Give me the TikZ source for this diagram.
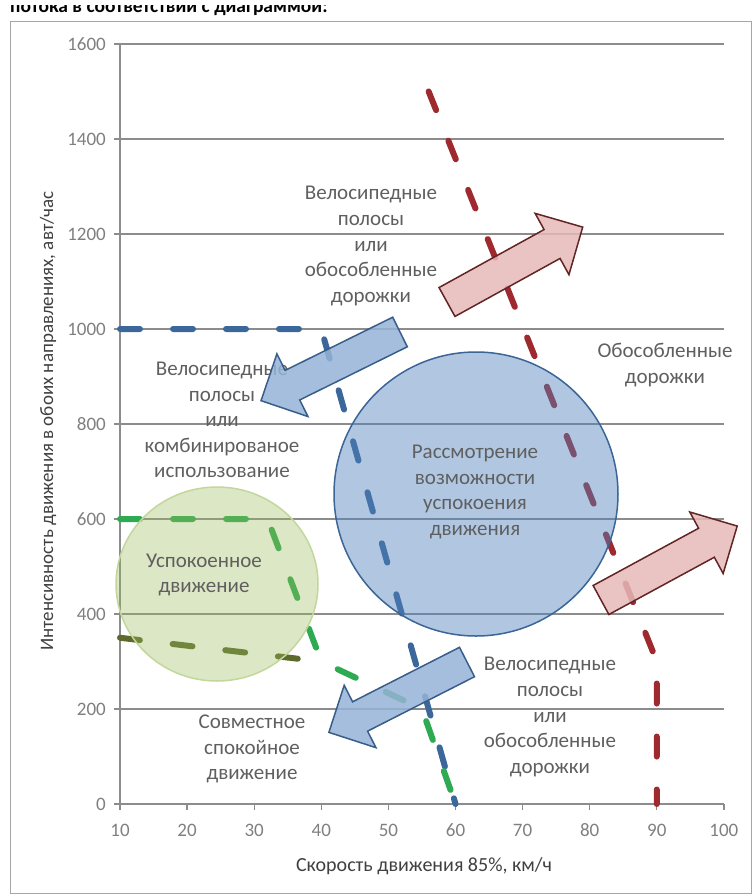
\documentclass[tikz,border=0pt]{standalone}
\usepackage{fontspec}
\setmainfont{Carlito}
\definecolor{gridc}{HTML}{8C8C8C}
\definecolor{framec}{HTML}{A6A6A6}
\definecolor{ticktxt}{HTML}{7F7F7F}
\definecolor{titletxt}{HTML}{404040}
\definecolor{plottxt}{HTML}{5F5F5F}
\definecolor{lblue}{HTML}{3C679A}
\definecolor{lgreen}{HTML}{2EAA52}
\definecolor{lolive}{HTML}{5C6A2E}
\definecolor{lred}{HTML}{9E2A30}
\definecolor{bigfill}{HTML}{4F81BD}
\definecolor{bigdraw}{HTML}{3A6596}
\definecolor{smfill}{HTML}{9BBB59}
\definecolor{smdraw}{HTML}{C3D69B}
\definecolor{bafill}{HTML}{95B3D7}
\definecolor{badraw}{HTML}{385D8A}
\definecolor{pafill}{HTML}{E6B9B8}
\definecolor{padraw}{HTML}{632523}
\tikzset{
  gridline/.style={gridc, line width=1.3pt},
  datadash/.style={line width=6pt, line cap=round, dash pattern=on 20pt off 33pt},
  ticklbl/.style={font=\fontsize{19}{22}\selectfont, text=ticktxt, inner sep=0pt},
  axtitle/.style={font=\fontsize{19}{22}\selectfont, text=titletxt, inner sep=0pt},
  plottext/.style={font=\fontsize{21}{25.6}\selectfont, text=plottxt, align=center, inner sep=0pt},
  blockarrow/.pic={\path[pic actions] (0,-16.5) -- (120,-16.5) -- (120,-35) -- (155,0) -- (120,35) -- (120,16.5) -- (0,16.5) -- cycle;},
  bluearrow/.style={fill=bafill, fill opacity=0.85, draw=badraw, line width=1.5pt},
  pinkarrow/.style={fill=pafill, fill opacity=0.85, draw=padraw, line width=1.5pt},
}
\begin{document}
\begin{tikzpicture}[x=1pt,y=-1pt]
\useasboundingbox (0,0) rectangle (755,895);
% cut-off heading line (only its lower part shows)
\begin{scope}
  \clip (0,5.5) rectangle (755,20);
  \node[anchor=base west, font=\fontsize{19.5}{22}\selectfont\bfseries, inner sep=0pt] (toptxt) at (10,12.5) {потока в соответствии с диаграммой:};
\end{scope}
% chart frame
\draw[framec, line width=1pt] (10.5,21) rectangle (751,893);
% data area
\begin{scope}[shift={(52.9,804)}, x=6.71pt, y=0.475pt]
  \foreach \v in {200,400,...,1600} \draw[gridline] (10,\v) -- (100,\v);
  \draw[gridline] (10,0) -- (10,1600);
  \draw[gridline] (10,0) -- (100,0);
  \foreach \v in {0,200,...,1600} \draw[gridline] (10,\v) -- +(-6pt,0pt);
  \foreach \v in {10,20,...,100} \draw[gridline] (\v,0) -- +(0pt,-6pt);
  % data lines
  \draw[datadash, lred] (56,1500) -- (90,300) -- (90,0);
  \draw[datadash, lblue] (10,1000) -- (40,1000) -- (60,0);
  \draw[datadash, lolive] (10,350) -- (40,300);
  \draw[datadash, lgreen] (10,600) -- (32,600) -- (40,300) -- (55,200) -- (60,0);
\end{scope}
% circles
\draw[fill=bigfill, fill opacity=0.45, draw=bigdraw, line width=1.5pt] (476,494) ellipse [x radius=142, y radius=142];
\draw[fill=smfill, fill opacity=0.35, draw=smdraw, line width=1.5pt] (217,584) ellipse [x radius=101, y radius=97];
% tick labels
\foreach \v/\py in {0/804,200/709,400/614,600/519,800/424,1000/329,1200/234,1400/139,1600/44}
  \node[ticklbl, anchor=east] (yl\v) at (106,\py) {\v};
\foreach \v in {10,20,...,100}
  \node[ticklbl, anchor=base] (xl\v) at ({120+6.71*(\v-10)},836) {\v};
% axis titles
\node[axtitle, rotate=90] (ytitle) at (48,421) {Интенсивность движения в обоих направлениях, авт/час};
\node[axtitle, font=\fontsize{20}{22}\selectfont] (xtitle) at (424,866) {Скорость движения 85\%, км/ч};
% zone texts
\node[plottext] (t1) at (371,246) {Велосипедные\\полосы\\или\\обособленные\\дорожки};
\node[plottext] (t2) at (665,365) {Обособленные\\дорожки};
\node[plottext] (t3) at (222,420) {Велосипедные\\полосы\\или\\комбинированое\\использование};
\node[plottext] (t4) at (475,492) {Рассмотрение\\возможности\\успокоения\\движения};
\node[plottext] (t5) at (204,575) {Успокоенное\\движение};
\node[plottext] (t6) at (252,749) {Совместное\\спокойное\\движение};
\node[plottext] (t7) at (550,717) {Велосипедные\\полосы\\или\\обособленные\\дорожки};
% block arrows
\pic[pinkarrow, rotate=28.9] (pa1) at (447,302) {blockarrow};
\pic[pinkarrow, rotate=28.5] (pa2) at (601,600) {blockarrow};
\pic[bluearrow, rotate=206.3] (ba1) at (400,332) {blockarrow};
\pic[bluearrow, rotate=207] (ba2) at (467,662) {blockarrow};
\end{tikzpicture}
\end{document}
